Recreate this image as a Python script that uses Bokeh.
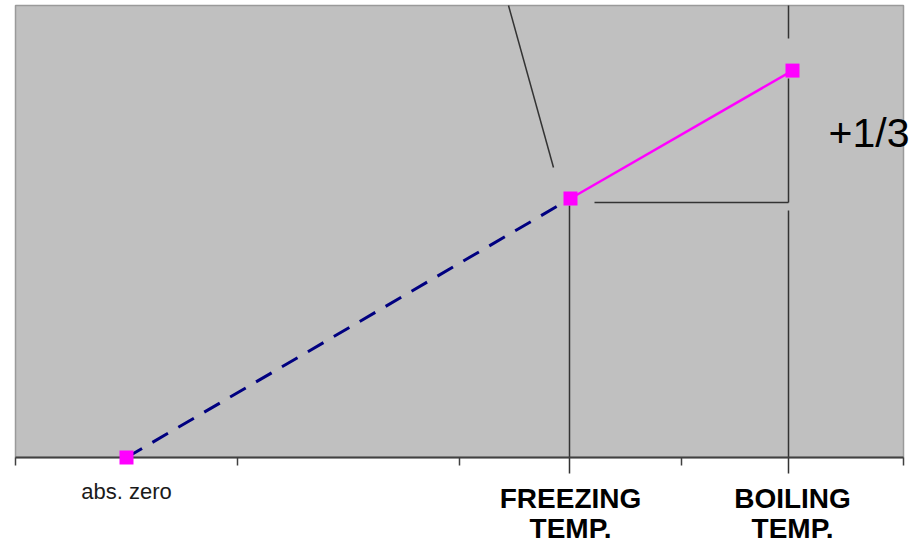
from bokeh.plotting import figure
from bokeh.models import Range1d, FixedTicker
from bokeh.core.properties import value
from bokeh.embed import file_html
from bokeh.resources import INLINE

# ---- data ----
categories = ["abs. zero", "", "FREEZING\nTEMP.", "BOILING\nTEMP."]
category_pos = [1, 2, 3, 4]
point_names = ["abs. zero", "FREEZING TEMP.", "BOILING TEMP."]
point_cat = [1, 3, 4]
point_val = [0.0, 57.3, 85.6]
category_edges = [0.5, 1.5, 2.5, 3.5, 4.5]
value_top = 100.0
ratio_label = "+1/3"

# ---- layout (pixels) ----
W, H = 912, 544
AREA_L, AREA_R = 15, 903      # grey plot area, left/right
AREA_T, AREA_B = 5, 457       # grey plot area, top/bottom (axis line)
ux = (category_edges[-1] - category_edges[0]) / (AREA_R - AREA_L)
uy = value_top / (AREA_B - AREA_T)
X0 = category_edges[0] - AREA_L * ux
X1 = category_edges[-1] + (W - AREA_R) * ux
Y0 = 0.0 - (H - AREA_B) * uy
Y1 = value_top + AREA_T * uy

p = figure(width=W, height=H, output_backend="svg", toolbar_location=None,
           x_range=Range1d(X0, X1), y_range=Range1d(Y0, Y1),
           min_border=0, y_axis_location=None,
           background_fill_color="white", border_fill_color="white",
           outline_line_color=None)
p.xgrid.visible = False
p.ygrid.visible = False

# grey plot area
p.quad(left=[category_edges[0]], right=[category_edges[-1]],
       bottom=[0.0], top=[value_top], fill_color="#c0c0c0",
       line_color="#9a9a9a", line_width=1.5)

xf, yf = point_cat[1], point_val[1]
xb, yb = point_cat[2], point_val[2]

# connector strokes
x0s = [xf - 62 * ux, xb - 4 * ux, xb - 4 * ux, xf + 24 * ux, xf - 1 * ux, xb - 4 * ux]
y0s = [value_top, value_top, yb - 8 * uy, yf - 4 * uy, yf - 7 * uy, yf - 12 * uy]
x1s = [xf - 17 * ux, xb - 4 * ux, xb - 4 * ux, xb - 4 * ux, xf - 1 * ux, xb - 4 * ux]
y1s = [yf + 31 * uy, yb + 32 * uy, yf - 4 * uy, yf - 4 * uy, -16 * uy, -16 * uy]
p.segment(x0=x0s, y0=y0s, x1=x1s, y1=y1s, line_color="#333333", line_width=1.5)

# series
p.line(point_cat[:2], point_val[:2], line_color="#000080", line_width=3,
       line_dash="18 12")
p.line(point_cat[1:], point_val[1:], line_color="#ff00ff", line_width=2.5)
mk = p.scatter(point_cat, point_val, marker="square", size=14,
               fill_color="#ff00ff", line_color=None)
mk.level = "overlay"

# x axis at value 0
ax = p.xaxis[0]
ax.fixed_location = 0
ax.bounds = (category_edges[0], category_edges[-1])
ax.ticker = FixedTicker(ticks=[], minor_ticks=category_edges)
ax.axis_line_color = "#404040"
ax.axis_line_width = 2
ax.minor_tick_line_color = "#404040"
ax.minor_tick_line_width = 1.5
ax.minor_tick_in = 0
ax.minor_tick_out = 8
ax.major_tick_line_color = None

# category labels
xs_n, ys_n, ts_n = [], [], []
xs_b, ys_b, ts_b = [], [], []
for pos, lab in zip(category_pos, categories):
    if not lab:
        continue
    lines = lab.split("\n")
    if len(lines) == 1:
        xs_n.append(pos); ys_n.append(-34 * uy); ts_n.append(lines[0])
    else:
        for i, ln in enumerate(lines):
            ys = -(41 + 30 * i) * uy
            xs_b.append(pos); ys_b.append(ys); ts_b.append(ln)

p.text(x=xs_n, y=ys_n, text=ts_n, text_font=value("Liberation Sans"),
       text_font_size=value("22px"), text_color="#1a1a1a",
       text_align="center", text_baseline="alphabetic")
p.text(x=xs_b, y=ys_b, text=ts_b, text_font=value("Liberation Sans"),
       text_font_size=value("28px"), text_font_style="bold",
       text_color="black", text_align="center", text_baseline="alphabetic")

# ratio label
p.text(x=[xb + 36 * ux], y=[yb - 62 * uy], text=[ratio_label],
       text_font=value("Liberation Sans"), text_font_size=value("41px"),
       text_color="black", text_align="left", text_baseline="alphabetic")

open("out.html", "w").write(file_html(p, INLINE))
